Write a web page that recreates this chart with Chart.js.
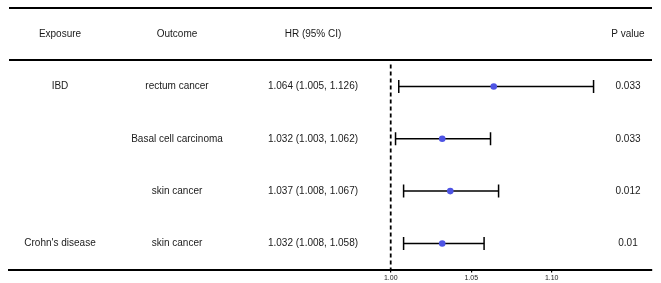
<!DOCTYPE html>
<html>
<head>
<meta charset="utf-8">
<script src="https://cdn.jsdelivr.net/npm/chart.js@4"></script>
<style>
  html, body { margin: 0; padding: 0; background: #fff; }
  #wrap { width: 661px; height: 283px; position: relative; }
</style>
</head>
<body>
<div id="wrap"><canvas id="forestChart"></canvas></div>
<script>
// table data
var headers = ['Exposure', 'Outcome', 'HR (95% CI)', 'P value'];
var exposures = ['IBD', '', '', "Crohn's disease"];
var outcomes = ['rectum cancer', 'Basal cell carcinoma', 'skin cancer', 'skin cancer'];
var hrValues = [1.064, 1.032, 1.037, 1.032];
var ciLow = [1.005, 1.003, 1.008, 1.008];
var ciHigh = [1.126, 1.062, 1.067, 1.058];
var pValues = ['0.033', '0.033', '0.012', '0.01'];
var xTicks = [1.00, 1.05, 1.10];

// column centres (px) for the text part of the table
var colX = [60, 177, 313, 628];
var textColor = '#1a1a1a';
var dotColor = 'rgb(78, 84, 228)';

var datasetsForest = [];

// reference line at HR = 1
datasetsForest.push({
  data: [{ x: 1, y: 0.58 }, { x: 1, y: 4.5 }],
  showLine: true,
  borderColor: '#000',
  borderWidth: 1.8,
  borderDash: [4, 3],
  pointRadius: 0,
  order: 2
});

for (var i = 0; i < hrValues.length; i++) {
  var row = i + 1;
  // whisker with end caps
  datasetsForest.push({
    data: [{ x: ciLow[i], y: row }, { x: ciHigh[i], y: row }],
    showLine: true,
    borderColor: '#000',
    borderWidth: 1.5,
    pointStyle: 'line',
    pointRotation: 90,
    pointRadius: 6.5,
    pointBorderWidth: 1.5,
    pointBorderColor: '#000',
    order: 1
  });
}
// point estimates (drawn on top)
var preDots = [];
for (var i = 0; i < hrValues.length; i++) {
  preDots.push({ x: hrValues[i], y: i + 1 });
}
datasetsForest.push({
  data: preDots,
  showLine: false,
  pointStyle: 'circle',
  pointRadius: 3.3,
  pointBackgroundColor: dotColor,
  pointBorderColor: dotColor,
  pointBorderWidth: 0,
  order: 0
});

var tablePlugin = {
  id: 'tablePlugin',
  afterDraw: function (chart) {
    var ctx = chart.ctx;
    var yS = chart.scales.y;
    var area = chart.chartArea;
    ctx.save();
    // horizontal rules
    ctx.strokeStyle = '#000';
    ctx.lineWidth = 2;
    [-0.5, 0.5].forEach(function (v) {
      var py = Math.round(yS.getPixelForValue(v));
      ctx.beginPath();
      ctx.moveTo(area.left, py);
      ctx.lineTo(area.right, py);
      ctx.stroke();
    });
    // text
    ctx.fillStyle = textColor;
    ctx.font = '10px "Liberation Sans", Arial, sans-serif';
    ctx.textAlign = 'center';
    ctx.textBaseline = 'middle';
    var hy = yS.getPixelForValue(0);
    for (var c = 0; c < headers.length; c++) {
      ctx.fillText(headers[c], colX[c], hy);
    }
    for (var i = 0; i < hrValues.length; i++) {
      var py = yS.getPixelForValue(i + 1);
      ctx.fillText(exposures[i], colX[0], py);
      ctx.fillText(outcomes[i], colX[1], py);
      ctx.fillText(hrValues[i].toFixed(3) + ' (' + ciLow[i].toFixed(3) + ', ' + ciHigh[i].toFixed(3) + ')', colX[2], py);
      ctx.fillText(pValues[i], colX[3], py);
    }
    ctx.restore();
  }
};

var configForest = {
  type: 'scatter',
  data: { datasets: datasetsForest },
  options: {
    responsive: true,
    maintainAspectRatio: false,
    animation: false,
    layout: { padding: { top: 7, left: 9, right: 9, bottom: 0 } },
    plugins: {
      legend: { display: false },
      tooltip: { enabled: false }
    },
    scales: {
      x: {
        type: 'linear',
        min: 0.7629,
        max: 1.1623,
        afterBuildTicks: function (axis) {
          axis.ticks = xTicks.map(function (v) { return { value: v }; });
        },
        grid: {
          display: true,
          drawOnChartArea: false,
          drawTicks: true,
          tickLength: 3,
          color: '#000',
          lineWidth: 1.2
        },
        border: { display: true, color: '#000', width: 2 },
        ticks: {
          color: textColor,
          padding: 1,
          maxRotation: 0,
          autoSkip: false,
          font: { size: 7, family: '"Liberation Sans", Arial, sans-serif' },
          callback: function (v) { return Number(v).toFixed(2); }
        }
      },
      y: {
        type: 'linear',
        display: false,
        reverse: true,
        min: -0.5,
        max: 4.5
      }
    }
  },
  plugins: [tablePlugin]
};

new Chart(document.getElementById('forestChart'), configForest);
</script>
</body>
</html>
